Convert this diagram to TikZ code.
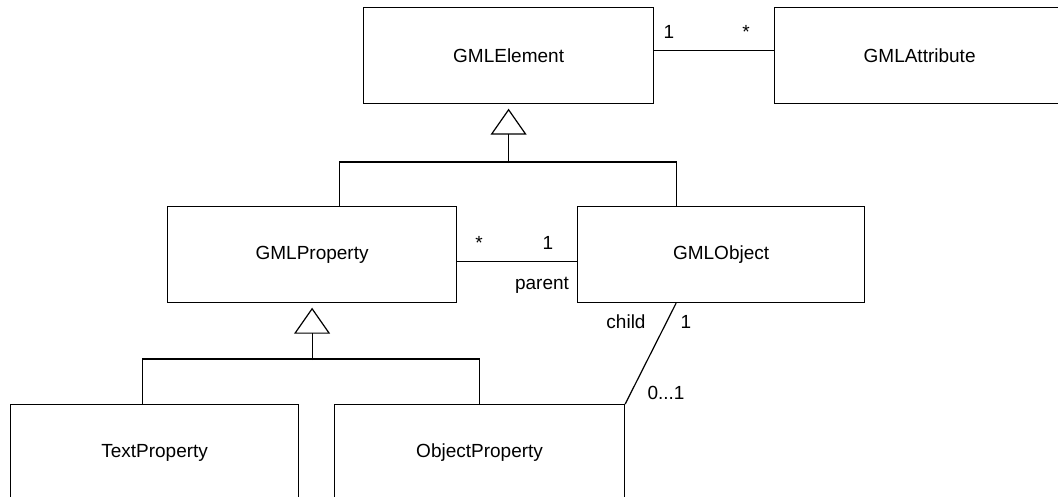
\documentclass[tikz,border=0pt]{standalone}
\usepackage{fontspec}
\setmainfont{Liberation Sans}
\usetikzlibrary{arrows.meta,calc}
\begin{document}
\begin{tikzpicture}[x=1pt,y=-1pt,
  line/.style={draw, line width=1.2pt},
  cls/.style={line, minimum height=96pt, inner sep=0pt, anchor=north west,
    font=\fontsize{19}{22}\selectfont},
  gen/.style={line, -{Triangle[open, length=26pt, width=36pt]}, shorten >=4.5pt},
  lbl/.style={anchor=base, inner sep=0pt, font=\fontsize{19}{22}\selectfont}]
\useasboundingbox (0,0) rectangle (1058,497);
\clip (0,0) rectangle (1058,497);

% classes
\node[cls, minimum width=290pt] (elem)  at (363,7)   {GMLElement};
\node[cls, minimum width=290pt] (attr)  at (774,7)   {GMLAttribute};
\node[cls, minimum width=289pt] (prop)  at (167,206) {GMLProperty};
\node[cls, minimum width=287pt] (obj)   at (577,206) {GMLObject};
\node[cls, minimum width=288pt] (tprop) at (10,404)  {TextProperty};
\node[cls, minimum width=290pt] (oprop) at (334,404) {ObjectProperty};

% associations
\draw[line] ([yshift=5pt]elem.east) -- ([yshift=5pt]attr.west);
\draw[line] ([yshift=-7pt]prop.east) -- ([yshift=-7pt]obj.west);
\draw[line] ([xshift=-45pt]obj.south) -- (oprop.north east);

% generalisation: GMLProperty, GMLObject -> GMLElement
\path (elem.south) ++(0,59) coordinate (j1);
\draw[line] ([xshift=27pt]prop.north) -- ++(0,-44) -| ([xshift=-45pt]obj.north);
\draw[gen] (j1) -- (elem.south);

% generalisation: TextProperty, ObjectProperty -> GMLProperty
\path (prop.south) ++(0,57) coordinate (j2);
\draw[line] ([xshift=-12.5pt]tprop.north) -- ++(0,-45) -| (oprop.north);
\draw[gen] (j2) -- (prop.south);

% multiplicities and roles
\node[lbl] (m1) at (669,39)  {1};
\node[lbl] (m2) at (746,39)  {*};
\node[lbl] (m3) at (479,250) {*};
\node[lbl] (m4) at (548,250) {1};
\node[lbl] (r1) at (542,290) {parent};
\node[lbl] (r2) at (626,328) {child};
\node[lbl] (m5) at (686,328) {1};
\node[lbl] (m6) at (666,399) {0...1};
\end{tikzpicture}
\end{document}
